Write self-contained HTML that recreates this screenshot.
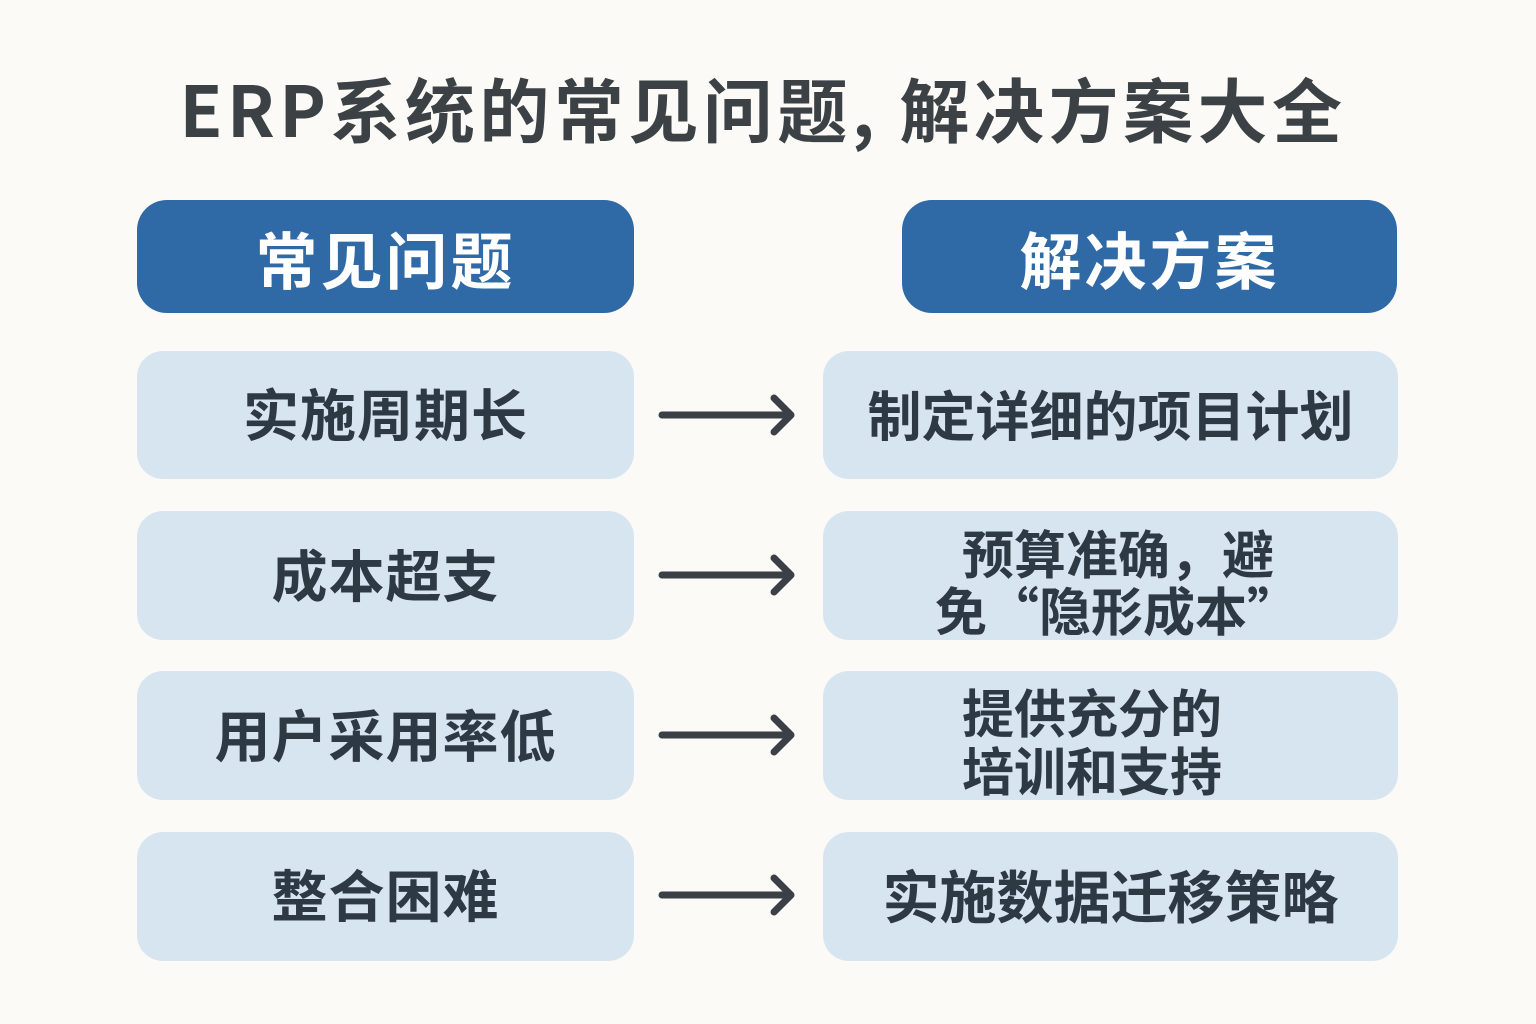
<!DOCTYPE html>
<html>
<head>
<meta charset="utf-8">
<style>
html,body{margin:0;padding:0;}
body{width:1536px;height:1024px;background:#fbfaf6;position:relative;overflow:hidden;
font-family:"Liberation Sans","Noto Sans CJK SC",sans-serif;}
.t{position:absolute;white-space:nowrap;font-family:"Noto Sans CJK SC","WenQuanYi Zen Hei",sans-serif;}
.box{position:absolute;border-radius:28px;}
.hdr{background:#2f6aa6;border-radius:30px;}
.row{background:#d7e5f0;border-radius:26px;}
.title{left:-5px;width:1536px;text-align:center;top:66px;font-size:70px;line-height:84px;font-weight:700;color:#3c4146;letter-spacing:4.5px;}
.ht{color:#fff;font-weight:700;font-size:62px;line-height:70px;letter-spacing:3px;text-align:center;}
.rt{color:#2e3a43;font-weight:600;line-height:64px;text-align:center;}
</style>
</head>
<body>
<div class="t title">ERP系统的常见问题, 解决方案大全</div>

<div class="box hdr" style="left:137px;top:200px;width:497px;height:113px;"></div>
<div class="box hdr" style="left:902px;top:200px;width:495px;height:113px;"></div>
<div class="t ht" style="left:137px;width:497px;top:222px;">常见问题</div>
<div class="t ht" style="left:902px;width:495px;top:222px;">解决方案</div>

<div class="box row" style="left:137px;top:351px;width:497px;height:128px;"></div>
<div class="box row" style="left:137px;top:511px;width:497px;height:129px;"></div>
<div class="box row" style="left:137px;top:671px;width:497px;height:129px;"></div>
<div class="box row" style="left:137px;top:832px;width:497px;height:129px;"></div>

<div class="box row" style="left:823px;top:351px;width:575px;height:128px;"></div>
<div class="box row" style="left:823px;top:511px;width:575px;height:129px;"></div>
<div class="box row" style="left:823px;top:671px;width:575px;height:129px;"></div>
<div class="box row" style="left:823px;top:832px;width:575px;height:129px;"></div>

<div class="t rt" style="left:137px;width:497px;top:381px;font-size:56px;letter-spacing:1px;">实施周期长</div>
<div class="t rt" style="left:137px;width:497px;top:542px;font-size:56px;letter-spacing:1px;">成本超支</div>
<div class="t rt" style="left:137px;width:497px;top:702px;font-size:56px;letter-spacing:1px;">用户采用率低</div>
<div class="t rt" style="left:137px;width:497px;top:862px;font-size:56px;letter-spacing:1px;">整合困难</div>

<div class="t rt" style="left:823px;width:575px;top:381px;font-size:54px;">制定详细的项目计划</div>
<div class="t rt" style="left:962px;top:520px;font-size:52px;text-align:left;">预算准确，避</div>
<div class="t rt" style="left:935px;top:577px;font-size:52px;text-align:left;">免“隐形成本”</div>
<div class="t rt" style="left:962px;top:679px;font-size:52px;text-align:left;">提供充分的</div>
<div class="t rt" style="left:962px;top:737px;font-size:52px;text-align:left;">培训和支持</div>
<div class="t rt" style="left:823px;width:575px;top:862px;font-size:57px;">实施数据迁移策略</div>

<svg width="1536" height="1024" style="position:absolute;left:0;top:0;" xmlns="http://www.w3.org/2000/svg">
<g fill="none" stroke="#3a4045" stroke-width="7" stroke-linecap="round" stroke-linejoin="round">
<line x1="662" y1="415" x2="788" y2="415"/><polyline points="774,398 791,415 774,432"/>
<line x1="662" y1="575" x2="788" y2="575"/><polyline points="774,558 791,575 774,592"/>
<line x1="662" y1="735" x2="788" y2="735"/><polyline points="774,718 791,735 774,752"/>
<line x1="662" y1="895" x2="788" y2="895"/><polyline points="774,878 791,895 774,912"/>
</g>
</svg>
</body>
</html>
